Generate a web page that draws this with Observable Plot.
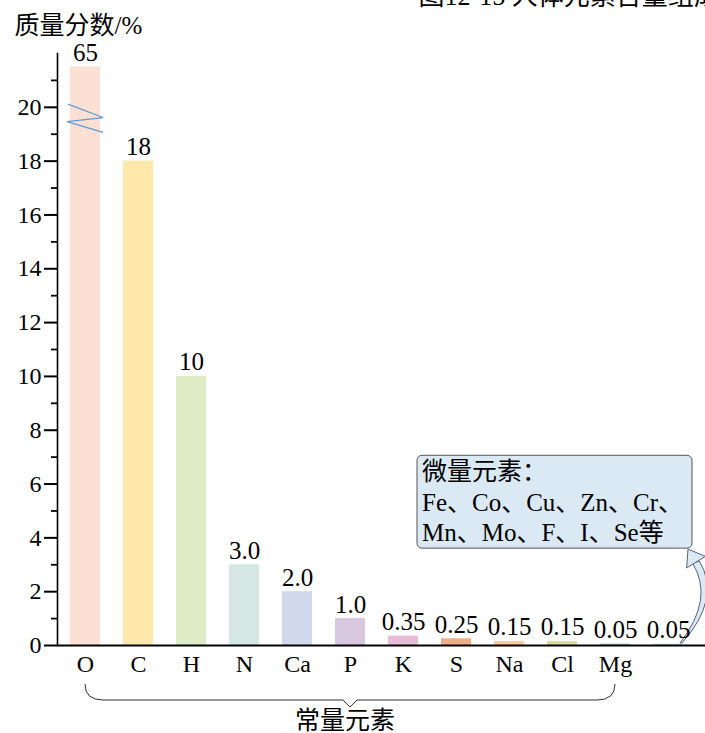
<!DOCTYPE html>
<html><head><meta charset="utf-8">
<script src="https://cdn.jsdelivr.net/npm/d3@7"></script>
<script src="https://cdn.jsdelivr.net/npm/@observablehq/plot@0.6"></script>
<style>body{margin:0;background:#fff}svg{display:block}svg text{font-family:'Liberation Serif','Noto Sans CJK SC',serif !important}</style>
</head><body><div id="chart"></div>
<script>
const categories = ["O","C","H","N","Ca","P","K","S","Na","Cl","Mg","微量"];
const tickLabels = ["O","C","H","N","Ca","P","K","S","Na","Cl","Mg",""];
const values = [65, 18, 10, 3.0, 2.0, 1.0, 0.35, 0.25, 0.15, 0.15, 0.05, 0.05];
const valueLabels = ["65","18","10","3.0","2.0","1.0","0.35","0.25","0.15","0.15","0.05","0.05"];
const colors = ["#fde0d4","#fee8aa","#deebc4","#d4e7e3","#d2d8eb","#d7c8e0","#e6bcd6","#f0ae88","#fbcc9a","#d8dd9e","#a9c4c4","#c8dcee"];
const breakCap = 21.5;                 // O bar is drawn truncated at this value
const breakZigY = [20.1, 19.6, 19.45, 19.05];
const yMajorTicks = [0,2,4,6,8,10,12,14,16,18,20];
const yMinorTicks = [1,3,5,7,9,11,13,15,17,19,21];
const yMax = 22;
const titleText = "质量分数/%";
const captionText = "图12-15 人体元素含量组成表";
const majorGroup = {from: "O", to: "Mg", label: "常量元素"};
const traceLines = ["微量元素：", "Fe、Co、Cu、Zn、Cr、", "Mn、Mo、F、I、Se等"];
const calloutY = [7.05, 3.6];           // top / bottom of the callout in y units

(function () {
const data = categories.map((c, i) => ({cat: c, value: values[i], shown: Math.min(values[i], breakCap), label: valueLabels[i], color: colors[i]}));
const FONT = "Liberation Serif, Noto Sans CJK SC, serif";

const chart = Plot.plot({
  width: 705, height: 733,
  marginLeft: 57, marginRight: 0, marginTop: 53, marginBottom: 88,
  style: {fontFamily: FONT, fontSize: "24px", color: "#000", background: "#fff", overflow: "visible"},
  x: {domain: categories, range: [57, 696], paddingInner: 0.434, paddingOuter: 0.245},
  y: {domain: [0, yMax]},
  color: {type: "identity"},
  marks: [
    Plot.barY(data, {x: "cat", y: "shown", fill: "color"}),
    Plot.frame({anchor: "left", stroke: "#000", strokeWidth: 1.6}),
    Plot.ruleY([0], {stroke: "#000", strokeWidth: 2}),
    Plot.axisY(yMajorTicks, {tickSize: 13, tickPadding: 3, strokeWidth: 2, fontSize: 24, fontFamily: FONT, label: null, tickFormat: d => String(d)}),
    Plot.axisY(yMinorTicks, {tickSize: 6, strokeWidth: 1.8, label: null, tickFormat: () => ""}),
    Plot.axisX({tickSize: 0, tickPadding: 9, fontSize: 24, fontFamily: FONT, label: null, tickFormat: d => tickLabels[categories.indexOf(d)]}),
    Plot.text([titleText], {frameAnchor: "top-left", dx: -43, dy: -20, lineAnchor: "bottom", textAnchor: "start", fontSize: 25, fontFamily: FONT}),
    Plot.text([captionText], {frameAnchor: "top-left", dx: 361, dy: -49, lineAnchor: "bottom", textAnchor: "start", fontSize: 26, fontFamily: FONT})
  ]
});
document.getElementById("chart").appendChild(chart);

// annotations drawn with the chart's own scales
const xs = chart.scale("x"), ys = chart.scale("y");
const bw = xs.bandwidth;
const X = c => xs.apply(c), Y = v => ys.apply(v);
const g = d3.select(chart).append("g").attr("text-anchor", "start");

// axis break zigzag on the O bar
const ox0 = X("O"), ox1 = X("O") + bw;
const zx = [ox0 - 2, ox1 + 3, ox0 - 3, ox1 + 3];
g.append("path")
  .attr("d", d3.line()(zx.map((x, i) => [x, Y(breakZigY[i])])))
  .attr("fill", "none").attr("stroke", "#5f9ad6").attr("stroke-width", 1.1);

// brace under the macro-element labels
const bx0 = X(majorGroup.from) + bw / 2, bx1 = X(majorGroup.to) + bw / 2, bm = (bx0 + bx1) / 2;
const by = Y(0);
const bTop = by + 39, bMid = by + 55, bTip = by + 62;
g.append("path")
  .attr("d", `M${bx0},${bTop} Q${bx0},${bMid} ${bx0 + 18},${bMid} L${bm - 7},${bMid} L${bm},${bTip} L${bm + 7},${bMid} L${bx1 - 18},${bMid} Q${bx1},${bMid} ${bx1},${bTop}`)
  .attr("fill", "none").attr("stroke", "#333").attr("stroke-width", 1);
g.append("text").attr("x", bm - 5).attr("y", by + 84).attr("text-anchor", "middle")
  .attr("font-size", 25).attr("font-family", FONT).text(majorGroup.label);

// callout box for trace elements
const last = categories[categories.length - 1];
const boxR = X(last) + bw + 9, boxL = boxR - 275;
const boxT = Y(calloutY[0]), boxB = Y(calloutY[1]);
g.append("rect").attr("x", boxL).attr("y", boxT).attr("width", boxR - boxL).attr("height", boxB - boxT)
  .attr("rx", 5).attr("fill", "#dbe9f5").attr("stroke", "#555").attr("stroke-width", 1);
traceLines.forEach((t, i) => {
  g.append("text").attr("x", boxL + 5).attr("y", boxT + 25 + i * 30.5).attr("text-anchor", "start")
    .attr("font-size", 25).attr("font-family", FONT).text(t);
});

// curved arrow from the last bar to the callout (tapered block arrow)
const sx = X(last) + bw, sy = Y(0) - 2;
const hx = boxR - 4, hy = boxB + 1;
const h0x = hx + 8, h0y = hy + 13;
const cx = hx + 30, cy = (sy + h0y) / 2 - 4;
const w = 3.5;
const shaftOutline = `M${sx - 1},${sy} Q${cx + w},${cy} ${h0x + w},${h0y - 1} L${h0x - w},${h0y + 1} Q${cx - w},${cy} ${sx - 3},${sy} Z`;
g.append("path").attr("d", shaftOutline).attr("fill", "#dbe9f5").attr("stroke", "#56657a").attr("stroke-width", 1);
const adx = hx - h0x, ady = hy - h0y, L = Math.hypot(adx, ady), px = -ady / L, py = adx / L;
g.append("path")
  .attr("d", `M${hx},${hy} L${h0x + px * 11},${h0y + py * 11} L${h0x - px * 11},${h0y - py * 11} Z`)
  .attr("fill", "#dbe9f5").attr("stroke", "#56657a").attr("stroke-width", 1);

})();
</script>
<script>
// value labels drawn last so they sit above the annotations
(function () {
  const svg = document.querySelector("#chart svg");
  const data = categories.map((c, i) => ({cat: c, shown: Math.min(values[i], breakCap), label: valueLabels[i]}));
  const labels = Plot.plot({
    width: 705, height: 733,
    marginLeft: 57, marginRight: 0, marginTop: 53, marginBottom: 88,
    x: {domain: categories, range: [57, 696], paddingInner: 0.434, paddingOuter: 0.245, axis: null},
    y: {domain: [0, yMax], axis: null},
    marks: [Plot.text(data, {x: "cat", y: "shown", text: "label", lineAnchor: "bottom", dy: -6, fontSize: 25, fill: "#000"})]
  });
  const gl = labels.querySelector("g[aria-label='text']");
  svg.appendChild(gl);
})();
</script>
</body></html>
